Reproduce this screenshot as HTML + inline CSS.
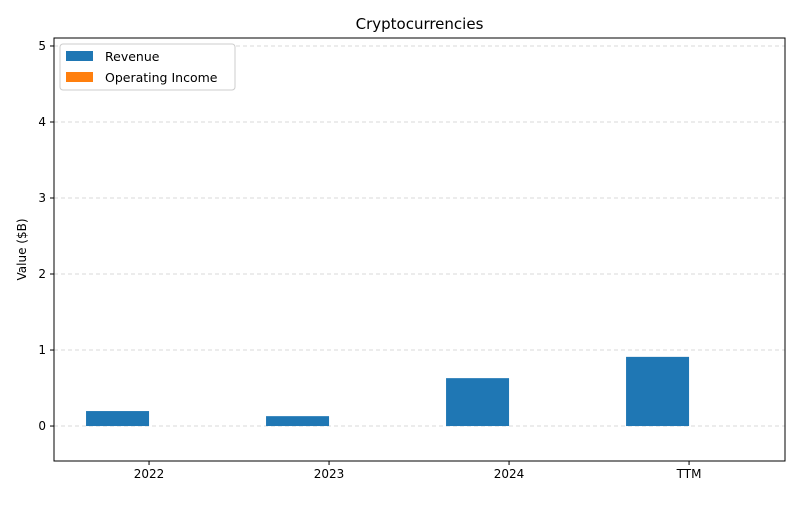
<!DOCTYPE html>
<html><head><meta charset="utf-8"><style>
body{margin:0;background:#fff;font-family:"Liberation Sans","DejaVu Sans",sans-serif}
svg text{font-family:"DejaVu Sans","Liberation Sans",sans-serif}
</style></head><body>
<svg id="chart" width="800" height="500" xmlns="http://www.w3.org/2000/svg"></svg>
<script>
const categories=["2022","2023","2024","TTM"];
const revenue=[0.197,0.13,0.63,0.91];
const operatingIncome=[0,0,0,0];
const yTicks=[0,1,2,3,4,5];
const L=54,R=785,T=38,B=461;
const yMin=-0.46,yMax=5.105;
const y=v=>B-(v-yMin)/(yMax-yMin)*(B-T);
const xMin=-0.528,xMax=3.533;
const x=i=>L+(i-xMin)/(xMax-xMin)*(R-L);
const bw=0.35*(R-L)/(xMax-xMin);
const svg=document.getElementById('chart');
const NS="http://www.w3.org/2000/svg";
function add(tag,attrs,parent){const e=document.createElementNS(NS,tag);for(const k in attrs)e.setAttribute(k,attrs[k]);(parent||svg).appendChild(e);return e;}
add('rect',{x:0,y:0,width:800,height:500,fill:'#fff'});
yTicks.forEach(t=>{
 const g=add('line',{x1:L,x2:R,y1:y(t),y2:y(t),stroke:'#ccc','stroke-dasharray':'4,3','stroke-width':0.8});
 
 
 const tk=add('line',{x1:L-4,x2:L,y1:y(t),y2:y(t),stroke:'#000'});
 
 
 const tx=add('text',{x:L-8,y:y(t)+4,'text-anchor':'end','font-size':12});
 tx.textContent=t;
 
 
});
categories.forEach((c,i)=>{
 const v=revenue[i];
 const r=add('rect',{x:x(i)-bw,y:Math.min(y(v),y(0)),width:bw,height:Math.abs(y(v)-y(0)),fill:'#1f77b4'});
 
 
 const o=operatingIncome[i];
 const r2=add('rect',{x:x(i),y:Math.min(y(o),y(0)),width:bw,height:Math.abs(y(o)-y(0)),fill:'#ff7f0e'});
 
 
 const tk=add('line',{x1:x(i),x2:x(i),y1:B,y2:B+4,stroke:'#000'});
 
 
 const tx=add('text',{x:x(i),y:B+17,'text-anchor':'middle','font-size':12});
 tx.textContent=c;
 
 
});
const frame=add('rect',{x:L,y:T,width:R-L,height:B-T,fill:'none',stroke:'#000','stroke-width':1});


const title=add('text',{x:(L+R)/2,y:29,'text-anchor':'middle','font-size':15});
title.textContent='Cryptocurrencies';


const yl=add('text',{x:0,y:0,'text-anchor':'middle','font-size':12,transform:`translate(26,${(T+B)/2}) rotate(-90)`});
yl.textContent='Value ($B)';


const lg=add('g',{});


add('rect',{x:60,y:44,width:175,height:46,rx:3,fill:'#fff',stroke:'#ccc'},lg);
[['Revenue','#1f77b4'],['Operating Income','#ff7f0e']].forEach((s,k)=>{
 const e=add('g',{},lg);
 
 
 add('rect',{x:66,y:51+k*21,width:27,height:10,fill:s[1]},e);
 const t=add('text',{x:105,y:61+k*21,'font-size':12.5},e);
 t.textContent=s[0];
});
</script>
</body></html>
